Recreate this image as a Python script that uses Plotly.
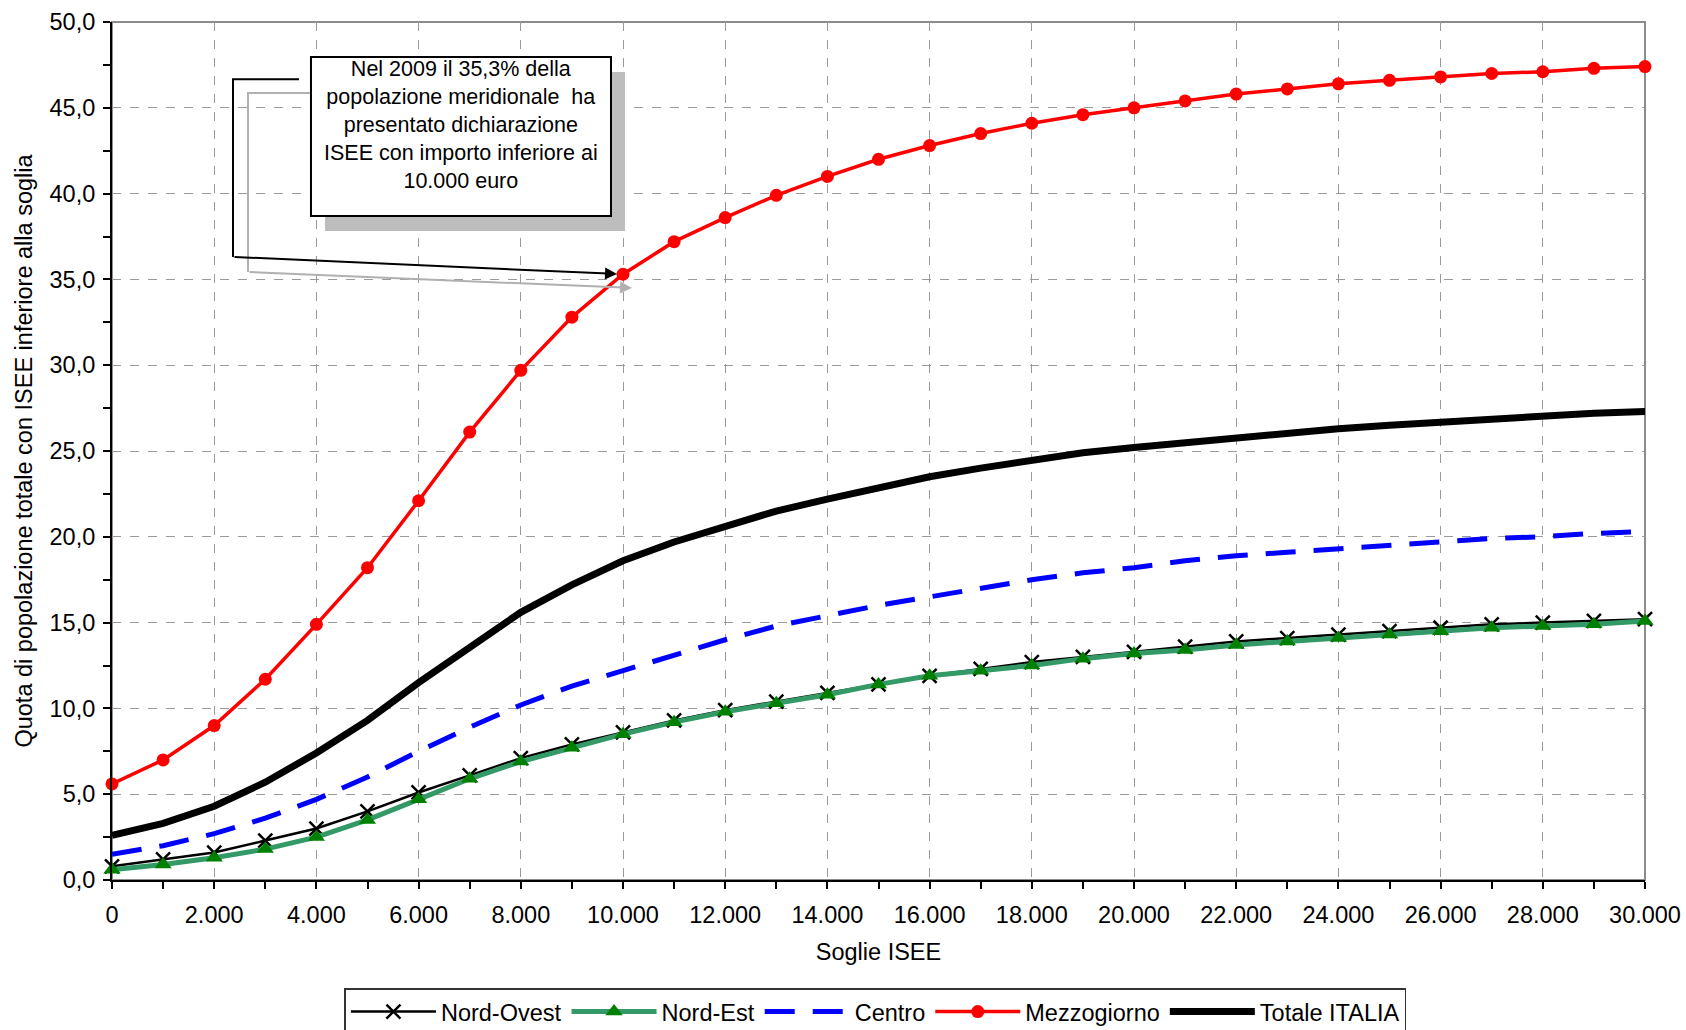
import plotly.graph_objects as go

# ---- data ----
soglie = list(range(0, 30001, 1000))

nord_ovest = [0.8, 1.2, 1.6, 2.3, 3.0, 4.0, 5.1, 6.1, 7.1, 7.9, 8.6, 9.3, 9.9, 10.4, 10.9, 11.4,
              11.9, 12.3, 12.7, 13.0, 13.3, 13.6, 13.9, 14.1, 14.3, 14.5, 14.7, 14.9, 15.0, 15.1, 15.2]
nord_est = [0.6, 0.9, 1.3, 1.8, 2.5, 3.5, 4.7, 5.9, 6.9, 7.7, 8.5, 9.2, 9.8, 10.3, 10.8, 11.4,
            11.9, 12.2, 12.5, 12.9, 13.2, 13.4, 13.7, 13.9, 14.1, 14.3, 14.5, 14.7, 14.8, 14.9, 15.1]
centro = [1.5, 2.0, 2.7, 3.6, 4.7, 6.0, 7.5, 8.9, 10.2, 11.3, 12.2, 13.1, 14.0, 14.8, 15.4, 16.0,
          16.5, 17.0, 17.5, 17.9, 18.2, 18.6, 18.9, 19.1, 19.3, 19.5, 19.7, 19.9, 20.0, 20.2, 20.3]
mezzogiorno = [5.6, 7.0, 9.0, 11.7, 14.9, 18.2, 22.1, 26.1, 29.7, 32.8, 35.3, 37.2, 38.6, 39.9, 41.0, 42.0,
               42.8, 43.5, 44.1, 44.6, 45.0, 45.4, 45.8, 46.1, 46.4, 46.6, 46.8, 47.0, 47.1, 47.3, 47.4]
totale = [2.6, 3.3, 4.3, 5.7, 7.4, 9.3, 11.5, 13.6, 15.6, 17.2, 18.6, 19.7, 20.6, 21.5, 22.2, 22.9,
          23.5, 24.0, 24.5, 24.9, 25.2, 25.5, 25.8, 26.1, 26.3, 26.5, 26.7, 26.9, 27.1, 27.2, 27.3]

series_names = ["Nord-Ovest", "Nord-Est", "Centro", "Mezzogiorno", "Totale ITALIA"]
callout_text = ("Nel 2009 il 35,3% della<br>popolazione meridionale  ha<br>presentato dichiarazione"
                "<br>ISEE con importo inferiore ai<br>10.000 euro")
callout_x = 10000
callout_y = 35.3

FONT = "Liberation Sans, Arial, sans-serif"
FS = 23.5

fig = go.Figure()

fig.add_trace(go.Scatter(
    x=soglie, y=nord_ovest, name=series_names[0], mode="lines+markers",
    line=dict(color="black", width=2.5),
    marker=dict(symbol="x-thin", size=14, line=dict(color="black", width=2.5), color="black"),
    cliponaxis=False))
fig.add_trace(go.Scatter(
    x=soglie, y=nord_est, name=series_names[1], mode="lines+markers",
    line=dict(color="#339966", width=5),
    marker=dict(symbol="triangle-up", size=15, color="#008000"),
    cliponaxis=False))
fig.add_trace(go.Scatter(
    x=soglie, y=centro, name=series_names[2], mode="lines",
    line=dict(color="#0000FF", width=5, dash="30px,18px"),
    cliponaxis=False))
fig.add_trace(go.Scatter(
    x=soglie, y=mezzogiorno, name=series_names[3], mode="lines+markers",
    line=dict(color="#FF0000", width=3.5),
    marker=dict(symbol="circle", size=13, color="#FF0000"),
    cliponaxis=False))
fig.add_trace(go.Scatter(
    x=soglie, y=totale, name=series_names[4], mode="lines",
    line=dict(color="black", width=7),
    cliponaxis=False))

# callout decoration (shadow, box, leader lines)
fig.add_shape(type="rect", xref="x", yref="y", x0=4168, x1=10039, y0=37.82, y1=47.09,
              fillcolor="#bdbdbd", line=dict(width=0), layer="above")
fig.add_shape(type="path", xref="x", yref="y",
              path="M 3875,45.86 L 2661,45.86 L 2661,35.43",
              line=dict(color="#b0b0b0", width=2), layer="above")
fig.add_annotation(x=10176, y=34.50, ax=2661, ay=35.43, axref="x", ayref="y", xref="x", yref="y",
                   text="", showarrow=True, arrowhead=2, arrowsize=1.2, arrowwidth=2, arrowcolor="#b0b0b0")
fig.add_shape(type="path", xref="x", yref="y",
              path="M 3660,46.66 L 2368,46.66 L 2368,36.31",
              line=dict(color="black", width=2), layer="above")
fig.add_annotation(x=callout_x, y=callout_y, ax=2368, ay=36.31, axref="x", ayref="y", xref="x", yref="y",
                   text="", showarrow=True, arrowhead=2, arrowsize=1.2, arrowwidth=2, arrowcolor="black",
                   standoff=6)
fig.add_shape(type="rect", xref="x", yref="y", x0=3894, x1=9765, y0=38.69, y1=47.96,
              fillcolor="white", line=dict(color="black", width=2), layer="above")
fig.add_annotation(x=6830, y=44.0, xref="x", yref="y", text=callout_text, showarrow=False,
                   font=dict(family=FONT, size=21.5, color="black"), align="center")

# gray top/right frame
fig.add_shape(type="rect", xref="paper", yref="paper", x0=0, x1=1, y0=0, y1=1,
              line=dict(color="#8c8c8c", width=2), layer="below")

fig.update_layout(
    width=1686, height=1030,
    margin=dict(l=112, r=41, t=22, b=150, autoexpand=False),
    paper_bgcolor="white", plot_bgcolor="white",
    separators=",.",
    font=dict(family=FONT, size=FS, color="black"),
    showlegend=True,
    legend=dict(orientation="h", x=0.498, xanchor="center", y=0.0405, yanchor="top", yref="container",
                bordercolor="#333333", borderwidth=1.5, font=dict(size=FS),
                itemwidth=85, tracegroupgap=0),
    xaxis=dict(range=[0, 30000], dtick=2000, tick0=0, tickformat=",",
               automargin=False,
               showgrid=True, gridcolor="#9a9a9a", griddash="dash", gridwidth=1,
               showline=True, linecolor="black", linewidth=2,
               ticks="outside", ticklen=7, tickcolor="black", tickwidth=1.5,
               ticklabelstandoff=6,
               minor=dict(dtick=1000, ticks="outside", ticklen=7, tickcolor="black", tickwidth=1.5, showgrid=False),
               zeroline=False,
               title=dict(text="Soglie ISEE", font=dict(size=FS), standoff=16),
               tickfont=dict(size=FS)),
    yaxis=dict(range=[0, 50], dtick=5, tick0=0, tickformat=".1f",
               automargin=False,
               showgrid=True, gridcolor="#9a9a9a", griddash="dash", gridwidth=1,
               showline=True, linecolor="black", linewidth=2,
               ticks="outside", ticklen=7, tickcolor="black", tickwidth=1.5,
               ticklabelstandoff=3,
               minor=dict(dtick=2.5, ticks="outside", ticklen=7, tickcolor="black", tickwidth=1.5, showgrid=False),
               zeroline=False,
               title=dict(text="Quota di popolazione totale con ISEE inferiore alla soglia",
                          font=dict(size=FS), standoff=10),
               tickfont=dict(size=FS)),
)

fig.write_html("out.html", config={"displayModeBar": False},
               post_script="document.body.style.margin='0';document.body.style.overflow='hidden';")
